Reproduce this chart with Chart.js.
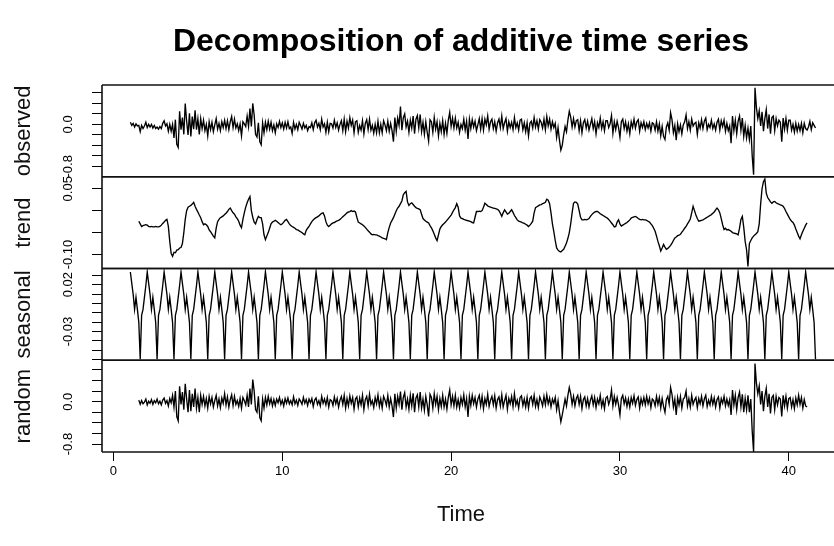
<!DOCTYPE html>
<html>
<head>
<meta charset="utf-8">
<script src="https://cdn.jsdelivr.net/npm/chart.js@4.4.1/dist/chart.umd.min.js"></script>
<style>
  html, body { margin: 0; padding: 0; background: #fff; overflow: hidden; }
  #wrap { width: 834px; height: 546px; }
</style>
</head>
<body>
<div id="wrap"><canvas id="c" width="834" height="546"></canvas></div>
<script>
// ---- time series attributes ----
const startTime = 1;
const frequency = 12;

// ---- observed series (t = 1 .. 41.58) ----
const observed = [
  0.04,-0.02,0.02,-0.05,0.01,-0.03,
  -0.02,-0.14,-0.02,-0.08,-0.03,0.04,-0.06,0,-0.05,0,-0.07,-0.02,
  -0.08,-0.05,-0.09,-0.04,-0.08,0.02,0.07,-0.03,0.01,-0.13,0,-0.13,
  0,-0.26,0.09,-0.38,-0.44,0.25,-0.1,0.13,-0.19,0.4,0.06,-0.2,
  0.21,-0.23,0.15,-0.09,0.27,-0.1,0.11,-0.19,0.11,-0.08,0.08,-0.12,
  0,-0.22,0.05,-0.1,0.04,-0.14,-0.01,0.11,-0.09,0.02,-0.12,0.05,
  -0.06,0.08,-0.08,0.07,-0.1,0.05,0.15,-0.06,0.1,-0.07,0.01,-0.12,
  0.01,-0.22,0.05,0.01,-0.04,0.16,-0.04,0.3,-0.04,0.4,0.18,-0.19,
  -0.24,0.03,-0.33,-0.39,0.03,-0.16,0.04,-0.1,0.06,-0.09,0.04,-0.12,
  -0.01,-0.16,0.01,-0.06,0.06,-0.06,0.03,-0.09,0.04,-0.07,0.05,-0.08,
  -0.05,-0.17,0.04,-0.09,0,-0.1,0.04,-0.02,-0.09,0.02,-0.07,-0.02,
  -0.12,-0.04,-0.06,0.03,-0.1,0.03,0.08,-0.05,0.02,-0.1,0.1,-0.05,
  0.01,-0.15,0.04,-0.14,0.02,0.01,-0.07,0.08,-0.06,0.03,-0.11,0,
  0.07,-0.12,0.1,-0.14,0.06,-0.07,0.13,-0.02,0.08,-0.16,0.05,0.07,
  -0.15,-0.02,-0.11,0.07,-0.18,0.02,0.09,-0.1,0.1,-0.11,-0.02,-0.17,
  0,-0.16,0.06,-0.16,0,-0.16,0.07,-0.01,-0.12,0.06,-0.13,0.02,
  -0.12,-0.33,0.13,-0.13,0.12,-0.02,0.34,-0.11,0.13,0.2,-0.05,0.06,
  -0.15,0.08,-0.07,0.16,-0.18,0.1,0.17,-0.07,0.19,-0.14,0.04,-0.19,
  0.05,-0.15,-0.32,0.09,0.05,-0.15,0.13,-0.09,0.05,-0.22,0.02,-0.14,
  0.07,-0.19,0.02,-0.17,0.08,0.23,-0.04,0.12,-0.07,0.12,-0.07,0.04,
  -0.15,0,-0.08,0.1,-0.11,0.06,-0.28,0.1,-0.08,0.09,-0.05,0.06,
  -0.12,-0.01,0.11,-0.09,0.11,-0.11,0.1,-0.01,0.16,-0.09,0.05,0.1,
  -0.08,0.05,-0.13,0.03,0.1,-0.06,0.16,-0.08,0.03,0.11,-0.13,0.05,
  -0.06,0.04,-0.1,0.13,-0.06,0.03,-0.11,0.08,0.1,-0.1,0.03,-0.14,
  0.03,-0.22,0.02,0.06,-0.07,0.13,-0.05,0.07,-0.09,0.09,0.04,-0.07,
  0.1,-0.1,0.15,-0.03,0.1,-0.09,0.05,-0.06,0.02,-0.25,-0.06,-0.3,
  -0.49,-0.4,-0.2,-0.04,-0.14,0.08,0.25,0.14,-0.05,0.11,-0.05,0.07,
  0.09,-0.12,0.07,-0.16,0.03,0.09,-0.07,0.06,-0.11,0,0.11,-0.08,
  0.05,-0.18,0.03,-0.06,0.12,-0.08,0.05,-0.12,0.07,0.07,-0.06,0.01,
  0.17,-0.17,0.05,-0.1,0.06,-0.06,-0.25,0.05,0.1,-0.08,0.05,-0.13,
  0.01,-0.18,0.05,-0.06,0.1,-0.07,0.05,0.09,-0.13,0.03,-0.06,0.05,
  -0.1,0.02,-0.07,0.03,-0.13,0.03,0.01,-0.11,0.05,-0.13,0.01,-0.22,
  -0.04,-0.23,-0.29,-0.05,0.03,-0.11,0.22,0.09,-0.16,-0.02,-0.3,0.01,
  -0.14,-0.01,-0.18,-0.01,0.05,0.18,-0.08,0.05,-0.11,0.1,-0.03,0.02,
  0.04,-0.19,0.03,-0.07,0.09,-0.08,0.06,0.12,-0.1,0,-0.06,0.08,
  -0.08,0.01,-0.11,0.04,0.1,-0.11,0.07,-0.04,0.08,-0.13,0.02,-0.12,
  -0.03,-0.36,0.16,-0.12,0.08,-0.18,0.06,0.16,-0.11,0.12,-0.23,-0.02,
  -0.26,-0.07,-0.29,-0.03,-0.6,-0.96,0.7,0.32,0.11,0.26,-0.03,0.24,
  -0.13,0.11,0.28,-0.08,0.19,-0.18,0.13,0.16,-0.12,0.11,-0.03,0.08,
  0.04,-0.33,0.12,-0.09,0.11,-0.11,0.08,0.08,-0.11,0,-0.15,0.02,
  -0.13,0,-0.12,0.02,-0.16,0.02,-0.08,-0.11,
  -0.05,0.06,-0.1,0.03,-0.02,-0.07
];

// ---- trend (moving average; t = 1.5 .. 41.08) ----
const trendOffset = 6;
const trend = [
  -0.024,-0.03,-0.036,-0.034,-0.033,-0.032,-0.033,-0.036,-0.037,-0.036,-0.037,-0.037,
  -0.036,-0.037,-0.037,-0.036,-0.033,-0.029,-0.026,-0.022,-0.02,-0.036,-0.07,-0.098,
  -0.104,-0.095,-0.096,-0.09,-0.089,-0.085,-0.084,-0.075,-0.05,-0.02,0,0.008,
  0.01,0.012,0.015,0.019,0.01,0.003,-0.003,-0.01,-0.016,-0.025,-0.032,-0.03,
  -0.032,-0.036,-0.044,-0.048,-0.053,-0.058,-0.062,-0.04,-0.025,-0.02,-0.016,-0.014,
  -0.012,-0.009,-0.006,-0.002,0.003,0.006,0,-0.005,-0.008,-0.014,-0.018,-0.024,
  -0.033,-0.039,-0.02,-0.005,0.008,0.018,0.026,0.032,0,-0.015,-0.026,-0.03,
  -0.02,-0.013,-0.016,-0.016,-0.03,-0.055,-0.066,-0.058,-0.05,-0.04,-0.03,-0.026,
  -0.024,-0.022,-0.024,-0.027,-0.03,-0.032,-0.03,-0.026,-0.022,-0.02,-0.025,-0.03,
  -0.034,-0.036,-0.038,-0.04,-0.043,-0.044,-0.046,-0.048,-0.05,-0.053,-0.055,-0.045,
  -0.04,-0.036,-0.03,-0.025,-0.021,-0.018,-0.016,-0.014,-0.012,-0.009,-0.006,-0.005,
  -0.012,-0.025,-0.033,-0.036,-0.033,-0.03,-0.028,-0.027,-0.025,-0.023,-0.022,-0.02,
  -0.017,-0.014,-0.011,-0.008,-0.005,-0.003,-0.002,0,-0.002,-0.001,-0.003,-0.015,
  -0.026,-0.028,-0.03,-0.032,-0.035,-0.038,-0.042,-0.046,-0.049,-0.053,-0.055,-0.054,
  -0.055,-0.055,-0.057,-0.058,-0.06,-0.062,-0.063,-0.064,-0.066,-0.05,-0.038,-0.028,
  -0.022,-0.016,-0.008,0,0.006,0.01,0.016,0.022,0.036,0.041,0.044,0.02,
  0.012,0.016,0.018,0.014,0.01,0.007,0.005,0.004,0.002,-0.008,-0.018,-0.021,
  -0.024,-0.026,-0.028,-0.034,-0.039,-0.046,-0.054,-0.062,-0.068,-0.055,-0.042,-0.036,
  -0.032,-0.029,-0.026,-0.022,-0.018,-0.014,-0.01,-0.004,0.002,0.007,0.016,0.008,
  -0.012,-0.017,-0.018,-0.02,-0.021,-0.022,-0.023,-0.024,-0.025,-0.027,-0.028,-0.015,
  -0.002,-0.002,-0.001,-0.002,0,0.008,0.017,0.014,0.011,0.009,0.008,0.007,
  0.006,0.005,0.004,0.003,0,-0.006,-0.013,-0.005,0.002,-0.003,-0.008,-0.006,
  -0.002,0.002,-0.004,-0.011,-0.016,-0.021,-0.024,-0.025,-0.026,-0.028,-0.029,-0.031,
  -0.033,-0.036,-0.033,-0.029,-0.024,-0.005,0.007,0.009,0.011,0.013,0.014,0.016,
  0.017,0.019,0.026,0.024,0.016,-0.005,-0.03,-0.048,-0.068,-0.085,-0.09,-0.093,
  -0.094,-0.091,-0.088,-0.081,-0.074,-0.063,-0.05,-0.03,-0.005,0.017,0.02,0.019,
  0.015,0,-0.015,-0.021,-0.021,-0.02,-0.021,-0.02,-0.018,-0.013,-0.009,-0.006,
  -0.003,-0.002,-0.002,-0.004,-0.007,-0.009,-0.011,-0.013,-0.015,-0.017,-0.02,-0.024,
  -0.028,-0.032,-0.037,-0.036,-0.026,-0.021,-0.03,-0.035,-0.033,-0.031,-0.029,-0.027,
  -0.024,-0.021,-0.017,-0.015,-0.014,-0.013,-0.015,-0.018,-0.02,-0.021,-0.02,-0.021,
  -0.021,-0.022,-0.024,-0.026,-0.03,-0.034,-0.04,-0.047,-0.058,-0.07,-0.08,-0.092,
  -0.085,-0.077,-0.083,-0.088,-0.086,-0.083,-0.079,-0.074,-0.068,-0.062,-0.06,-0.057,
  -0.056,-0.054,-0.049,-0.045,-0.04,-0.036,-0.03,-0.025,-0.019,-0.005,0.01,0,
  -0.01,-0.018,-0.024,-0.023,-0.022,-0.021,-0.019,-0.017,-0.015,-0.013,-0.011,-0.009,
  -0.006,-0.003,0.002,0.006,0.002,-0.005,-0.018,-0.032,-0.043,-0.04,-0.044,-0.043,
  -0.045,-0.047,-0.05,-0.051,-0.052,-0.053,-0.055,-0.04,-0.02,-0.013,-0.038,-0.07,
  -0.089,-0.127,-0.075,-0.068,-0.062,-0.058,-0.055,-0.052,-0.048,-0.03,0.015,0.05,
  0.066,0.072,0.04,0.03,0.025,0.02,0.017,0.02,0.021,0.018,0.016,0.015,
  0.013,0.012,0.01,0.005,-0.002,-0.008,-0.014,-0.02,-0.024,-0.027,-0.033,-0.042,
  -0.05,-0.058,-0.064,-0.055,-0.047,-0.04,-0.033,-0.028
];

// ---- seasonal figure (one value per period position, repeated every cycle) ----
const seasonalFigure = [0.0335,0.0213,0.0096,-0.0064,0.0064,-0.0064,-0.0202,-0.0596,-0.0128,-0.0064,0.0064,0.0191];

// ---- random (remainder; t = 1.5 .. 41.08) ----
const randomPart = [
  0.03,-0.05,0.02,-0.04,-0.01,0.05,-0.06,0.01,-0.03,0.04,-0.05,0.02,
  -0.02,0.05,-0.04,0.01,-0.06,0.03,0.07,-0.03,0.02,-0.08,0.06,-0.02,
  0.12,-0.1,0.2,-0.28,-0.36,0.29,-0.05,0.18,-0.15,0.34,0.05,-0.2,
  0.22,-0.18,0.15,-0.1,0.25,-0.12,0.08,-0.2,0.12,-0.05,0.1,-0.08,
  0.06,-0.12,0.1,-0.04,0.08,-0.1,0.02,0.12,-0.08,0.05,-0.11,0.07,
  -0.03,0.15,-0.06,0.09,-0.1,0.04,0.13,-0.07,0.1,-0.05,0.02,-0.09,
  0.06,-0.12,0.08,0.02,-0.06,0.12,-0.1,0.25,-0.05,0.42,0.2,-0.15,
  -0.2,0.1,-0.3,-0.36,0.05,-0.12,0.08,-0.06,0.1,-0.04,0.06,-0.08,
  0.04,-0.07,0.05,-0.02,0.08,-0.05,0.03,-0.08,0.06,-0.03,0.07,-0.04,
  0.02,-0.06,0.09,-0.04,0.03,-0.07,0.05,0.01,-0.05,0.08,-0.03,0.04,
  -0.07,0.05,-0.02,0.06,-0.09,0.03,0.07,-0.05,0.02,-0.08,0.1,-0.03,
  0.05,-0.06,0.08,-0.1,0.04,0.02,-0.07,0.09,-0.04,0.06,-0.1,0.03,
  0.1,-0.05,0.12,-0.12,0.06,-0.08,0.11,-0.03,0.08,-0.14,0.05,0.09,
  -0.1,0.07,-0.06,0.12,-0.15,0.04,0.1,-0.08,0.14,-0.05,0.02,-0.11,
  0.08,-0.04,0.13,-0.09,0.05,-0.12,0.1,0.03,-0.07,0.12,-0.1,0.06,
  -0.08,-0.29,0.15,-0.12,0.1,-0.05,0.19,-0.15,0.08,0.17,-0.1,0.05,
  -0.14,0.12,-0.08,0.16,-0.2,0.07,0.13,-0.1,0.18,-0.12,0.05,-0.16,
  0.1,-0.06,-0.28,0.14,0.08,-0.12,0.15,-0.05,0.1,-0.15,0.06,-0.09,
  0.12,-0.1,0.05,-0.14,0.08,0.22,-0.06,0.1,-0.08,0.12,-0.1,0.04,
  -0.12,0.08,-0.05,0.13,-0.1,0.06,-0.29,0.1,-0.07,0.12,-0.04,0.08,
  -0.1,0.05,0.12,-0.08,0.1,-0.13,0.06,-0.05,0.14,-0.09,0.03,0.1,
  -0.06,0.11,-0.12,0.04,0.09,-0.08,0.13,-0.1,0.02,0.12,-0.14,0.06,
  -0.04,0.1,-0.09,0.15,-0.06,0.03,-0.12,0.08,0.11,-0.07,0.05,-0.1,
  0.08,-0.12,0.06,0.1,-0.05,0.12,-0.09,0.04,-0.11,0.09,0.02,-0.08,
  0.1,-0.06,0.13,-0.04,0.07,-0.1,0.05,-0.03,0.08,-0.15,0.02,-0.2,
  -0.38,-0.25,-0.1,0.05,-0.08,0.12,0.27,0.15,-0.05,0.1,-0.08,0.06,
  0.12,-0.05,0.1,-0.13,0.04,0.09,-0.08,0.06,-0.1,0.03,0.11,-0.06,
  0.08,-0.11,0.05,-0.04,0.12,-0.09,0.03,-0.13,0.07,0.1,-0.05,0.04,
  0.22,-0.08,0.1,-0.05,0.08,-0.06,-0.25,0.06,0.12,-0.04,0.07,-0.09,
  0.05,-0.1,0.08,-0.03,0.11,-0.07,0.04,0.09,-0.12,0.06,-0.05,0.08,
  -0.06,0.1,-0.04,0.07,-0.11,0.05,0.02,-0.08,0.1,-0.05,0.08,-0.12,
  0.06,-0.09,-0.2,0.04,0.1,-0.05,0.27,0.14,-0.1,0.05,-0.25,0.08,
  -0.06,0.1,-0.12,0.05,0.08,0.2,-0.08,0.06,-0.1,0.12,-0.05,0.03,
  0.08,-0.11,0.06,-0.04,0.1,-0.08,0.05,0.12,-0.09,0.03,-0.06,0.1,
  -0.05,0.07,-0.1,0.04,0.09,-0.12,0.06,-0.03,0.1,-0.08,0.05,-0.07,
  0.04,-0.25,0.22,-0.06,0.12,-0.15,0.08,0.18,-0.1,0.14,-0.2,0.06,
  -0.15,0.12,-0.2,0.05,-0.55,-0.95,0.72,0.35,0.15,0.3,-0.05,0.2,
  -0.18,0.1,0.25,-0.1,0.15,-0.22,0.08,0.12,-0.15,0.1,-0.06,0.08,
  0.05,-0.28,0.12,-0.08,0.1,-0.12,0.06,0.08,-0.1,0.04,-0.13,0.07,
  -0.06,0.12,-0.05,0.08,-0.12,0.04,-0.08,-0.1
];

// ---- axis ticks & labels ----
const timeTicks = [0, 10, 20, 30, 40];
const observedTicks = [-0.8,-0.6,-0.4,-0.2,0,0.2,0.4,0.6];
const observedLabels = ['-0.8','','','','0.0','','',''];
const trendTicks = [-0.1,-0.05,0,0.05];
const trendLabels = ['-0.10','','','0.05'];
const seasonalTicks = [-0.06,-0.05,-0.04,-0.03,-0.02,-0.01,0,0.01,0.02,0.03];
const seasonalLabels = ['','','','-0.03','','','','','0.02',''];
const randomTicks = [-0.8,-0.6,-0.4,-0.2,0,0.2,0.4,0.6];
const randomLabels = ['-0.8','','','','0.0','','',''];

// ---- build point tables ----
const toPoints = (arr, offset) => arr.map((v, i) => ({ x: startTime + (i + offset) / frequency, y: v }));
const seasonal = observed.map((_, i) => seasonalFigure[i % frequency]);

const FONT = "'Liberation Sans', Arial, Helvetica, sans-serif";
Chart.defaults.font.family = FONT;
Chart.defaults.color = '#000';

function panelAxis(title, min, max, ticks, labels, pad) {
  return {
    type: 'linear', position: 'left', stack: 'panels', stackWeight: 1,
    min: min, max: max,
    afterBuildTicks: s => { s.ticks = ticks.map(v => ({ value: v })); },
    afterFit: s => { s.width = 102; },
    grid: { drawOnChartArea: false, drawTicks: true, tickLength: 10, tickColor: '#000', tickWidth: 1 },
    border: { display: false },
    ticks: {
      autoSkip: false, minRotation: 90, maxRotation: 90, crossAlign: 'center',
      padding: pad, color: '#000', font: { size: 13, family: FONT },
      callback: (v, i) => labels[i]
    },
    title: { display: true, text: title, color: '#111', font: { size: 22, family: FONT }, padding: { top: 11, bottom: 0 } }
  };
}

const panelBox = {
  id: 'panelBox',
  afterDraw(chart) {
    const { ctx, chartArea } = chart;
    ctx.save();
    ctx.strokeStyle = '#111';
    ctx.lineWidth = 1.6;
    ['yRand', 'ySeas', 'yTrend', 'yObs'].forEach(id => {
      const s = chart.scales[id];
      [s.top, s.bottom].forEach(y => {
        ctx.beginPath();
        ctx.moveTo(chartArea.left, y);
        ctx.lineTo(chart.width, y);
        ctx.stroke();
      });
    });
    ctx.beginPath();
    ctx.moveTo(chartArea.left, chartArea.top);
    ctx.lineTo(chartArea.left, chartArea.bottom);
    ctx.stroke();
    ctx.restore();
  }
};

const lineStyle = { borderColor: '#000', borderWidth: 1.35, pointRadius: 0, tension: 0, fill: false };

new Chart(document.getElementById('c'), {
  type: 'line',
  data: {
    datasets: [
      Object.assign({ label: 'random', data: toPoints(randomPart, trendOffset), yAxisID: 'yRand' }, lineStyle),
      Object.assign({ label: 'seasonal', data: toPoints(seasonal, 0), yAxisID: 'ySeas' }, lineStyle),
      Object.assign({ label: 'trend', data: toPoints(trend, trendOffset), yAxisID: 'yTrend' }, lineStyle),
      Object.assign({ label: 'observed', data: toPoints(observed, 0), yAxisID: 'yObs' }, lineStyle)
    ]
  },
  options: {
    responsive: false,
    animation: false,
    events: [],
    layout: { padding: { left: 0, right: 14, top: 0, bottom: 0 } },
    plugins: {
      legend: { display: false },
      tooltip: { enabled: false },
      title: {
        display: true, fullSize: false,
        text: 'Decomposition of additive time series',
        color: '#000', font: { size: 32, weight: 'bold', family: FONT },
        padding: { top: 23, bottom: 23.6 }
      }
    },
    scales: {
      x: {
        type: 'linear', min: -0.68, max: 41.85,
        afterBuildTicks: s => { s.ticks = timeTicks.map(v => ({ value: v })); },
        afterFit: s => { s.height = 94; },
        grid: { drawOnChartArea: false, drawTicks: true, tickLength: 9, tickColor: '#000', tickWidth: 1 },
        border: { display: false },
        ticks: { autoSkip: false, maxRotation: 0, padding: 3, color: '#000', font: { size: 13, family: FONT }, callback: v => String(v) },
        title: { display: true, text: 'Time', color: '#111', font: { size: 22, family: FONT }, padding: { top: 0, bottom: 18 } }
      },
      yRand: panelAxis('random', -0.95, 0.783, randomTicks, randomLabels, 12.8),
      ySeas: panelAxis('seasonal', -0.0606, 0.0372, seasonalTicks, seasonalLabels, 9.2),
      yTrend: panelAxis('trend', -0.1318, 0.0773, trendTicks, trendLabels, 9.2),
      yObs: panelAxis('observed', -1.0, 0.752, observedTicks, observedLabels, 12.8)
    }
  },
  plugins: [panelBox]
});
</script>
</body>
</html>
